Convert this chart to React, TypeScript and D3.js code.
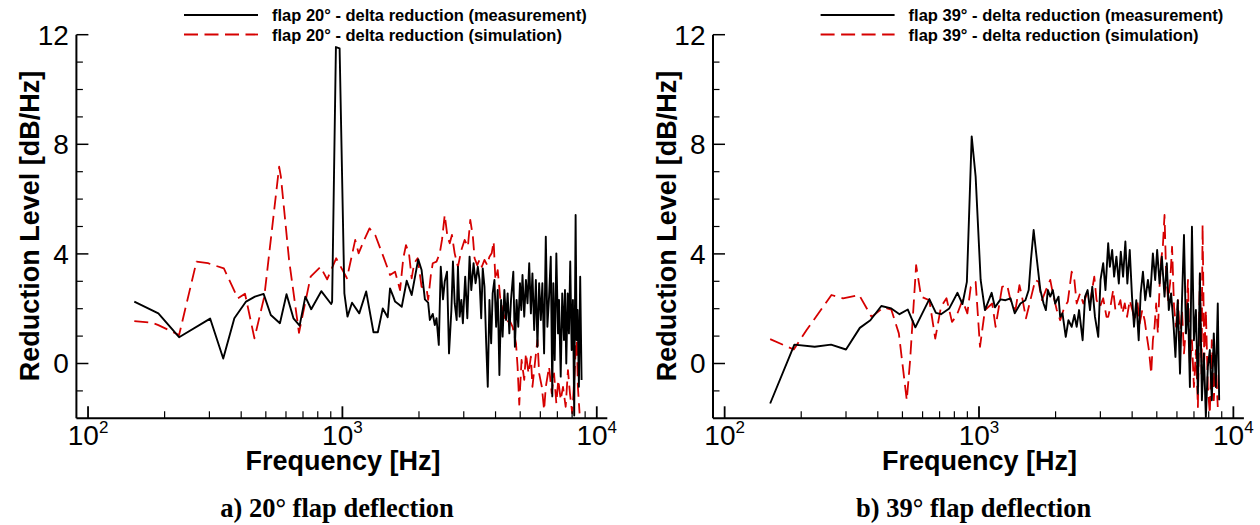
import React from "react";
import * as d3 from "d3";

type Pt = [number, number];

// Frequency [Hz], reduction level [dB/Hz]
const measA: Pt[] = [
  [152, 2.26], [189, 1.83], [228, 0.96], [302, 1.64], [340, 0.18], [376, 1.65], [418, 2.26], [453, 2.44],
  [490, 2.54], [523, 1.77], [568, 1.47], [603, 2.53], [642, 1.65], [679, 1.38], [715, 2.44], [754, 1.98],
  [826, 2.64], [903, 2.17], [911, 2.25], [943, 11.55], [975, 11.5], [1018, 2.56], [1047, 1.71], [1091, 2.22],
  [1165, 1.83], [1240, 2.63], [1325, 1.14], [1378, 1.14], [1441, 2.01], [1507, 1.69], [1539, 2.74], [1585, 2.44],
  [1611, 2.26], [1659, 2.17], [1711, 2.07], [1790, 3.02], [1872, 2.5], [1986, 3.8], [2048, 3.41], [2110, 2.34],
  [2173, 2.22], [2207, 1.59], [2266, 1.81], [2308, 1.4], [2344, 1.65], [2393, 0.68], [2436, 3.53], [2486, 2.34],
  [2525, 2.99], [2578, 3.35], [2625, 0.37], [2682, 1.95], [2720, 3.72], [2763, 2.2], [2813, 1.59], [2846, 3.53],
  [2890, 1.71], [2935, 2.32], [2976, 1.47], [3039, 3.17], [3098, 1.65], [3162, 3.9], [3211, 2.68], [3278, 3.66],
  [3338, 2.93], [3407, 3.53], [3460, 3.05], [3513, 1.65], [3562, 3.47], [3619, 2.8], [3675, 0.74], [3728, -0.85],
  [3785, 2.32], [3844, 0.74], [3897, 2.56], [3960, 3.05], [4021, 1.34], [4079, 2.68], [4142, -0.42], [4206, 2.32],
  [4264, 0.98], [4332, 2.68], [4399, 1.59], [4463, 2.56], [4532, 1.1], [4601, 2.32], [4698, 3.35], [4765, 0.61],
  [4839, 2.32], [4914, 1.34], [4990, 2.93], [5048, 1.95], [5105, 3.23], [5186, 1.71], [5266, 3.05], [5342, 2.2],
  [5425, 3.66], [5508, 1.83], [5585, 3.29], [5674, 1.22], [5762, 3.05], [5845, 0.61], [5935, 2.93], [6027, 1.59],
  [6111, 2.93], [6208, 0.37], [6304, 4.63], [6395, 1.34], [6494, 2.44], [6594, 3.9], [6686, -1.2], [6747, 2.93],
  [6834, 0.13], [6935, 4.02], [7042, 1.1], [7105, 2.32], [7215, -0.48], [7315, 2.56], [7432, 0.86], [7499, 2.68],
  [7588, 0.0], [7684, 2.56], [7774, 1.1], [7865, 3.72], [7965, 0.49], [8059, 2.32], [8153, -1.9], [8257, 5.42],
  [8331, 0.86], [8407, 1.95], [8506, -0.85], [8606, 3.17], [8715, -0.6],
];

const simA: Pt[] = [
  [152, 1.55], [178, 1.49], [189, 1.4], [228, 1.04], [267, 3.72], [296, 3.66], [342, 3.47], [388, 2.38],
  [414, 2.55], [451, 0.92], [493, 2.44], [564, 7.18], [573, 6.82], [617, 3.78], [675, 1.12], [750, 3.17],
  [820, 3.53], [871, 3.07], [945, 3.84], [1042, 3.11], [1123, 4.51], [1158, 4.02], [1210, 4.45], [1278, 4.93],
  [1346, 4.69], [1449, 3.9], [1539, 3.23], [1611, 3.35], [1685, 2.68], [1735, 3.84], [1778, 4.32], [1827, 4.02],
  [1872, 3.11], [1915, 3.66], [1976, 3.84], [2048, 2.8], [2142, 2.74], [2173, 2.32], [2227, 3.23], [2266, 3.66],
  [2344, 3.72], [2414, 4.02], [2463, 4.51], [2525, 5.42], [2588, 4.63], [2642, 4.39], [2695, 4.69], [2763, 4.02],
  [2846, 3.53], [2935, 4.14], [3023, 4.51], [3114, 4.26], [3182, 5.24], [3258, 4.63], [3308, 3.84], [3389, 3.59],
  [3460, 3.78], [3532, 3.53], [3619, 3.78], [3708, 3.59], [3785, 3.9], [3862, 4.02], [3932, 4.45], [3995, 3.05],
  [4079, 3.41], [4179, 2.32], [4264, 1.95], [4399, 1.47], [4532, 1.59], [4668, 1.34], [4813, 0.74], [4883, -0.12],
  [4958, -1.5], [5062, 0.13], [5186, -0.6], [5266, 0.37], [5391, -0.36], [5508, 0.25], [5585, -0.85], [5711, 0.0],
  [5845, 0.86], [5935, -0.36], [6081, -0.85], [6208, -1.7], [6304, -0.85], [6494, -0.12], [6653, -1.09], [6793, -0.36],
  [6935, -1.45], [7060, -0.6], [7215, -1.33], [7366, -0.85], [7547, -1.58], [7704, -0.24], [7844, -1.09], [8008, -1.82],
  [8184, -0.36], [8331, 1.22], [8429, -0.85], [8559, -1.82],
];

const measB: Pt[] = [
  [151, -1.46], [188, 0.69], [226, 0.61], [262, 0.69], [300, 0.51], [340, 1.3], [374, 1.58], [413, 2.1],
  [452, 2.01], [487, 1.8], [525, 1.97], [562, 1.32], [638, 2.35], [677, 1.85], [709, 1.8], [764, 2.01],
  [823, 2.58], [861, 2.17], [896, 2.98], [936, 8.29], [970, 6.82], [1015, 3.05], [1055, 1.95], [1121, 2.58],
  [1155, 2.05], [1215, 2.34], [1271, 2.31], [1330, 2.38], [1382, 1.83], [1455, 2.19], [1522, 2.31], [1568, 2.68],
  [1600, 3.78], [1640, 4.87], [1689, 3.78], [1742, 2.68], [1794, 2.19], [1832, 1.95], [1865, 2.68], [1906, 2.44],
  [1951, 2.68], [1993, 2.19], [2054, 2.44], [2085, 1.7], [2129, 1.83], [2193, 0.97], [2247, 1.58], [2314, 1.34],
  [2371, 1.77], [2421, 1.34], [2474, 1.95], [2555, 0.85], [2611, 2.44], [2673, 2.68], [2731, 1.95], [2788, 2.8],
  [2857, 1.7], [2943, 0.97], [3004, 3.05], [3078, 3.66], [3142, 2.68], [3220, 4.39], [3269, 3.53], [3338, 4.14],
  [3398, 3.17], [3469, 3.9], [3545, 2.92], [3609, 4.08], [3685, 3.17], [3762, 4.45], [3830, 2.92], [3914, 4.14],
  [3995, 2.44], [4068, 1.34], [4153, 2.31], [4244, 0.85], [4321, 2.56], [4411, 3.35], [4503, 2.31], [4614, 3.05],
  [4710, 2.44], [4826, 4.02], [4927, 3.05], [5016, 4.14], [5126, 2.92], [5233, 3.9], [5362, 2.44], [5474, 3.66],
  [5573, 1.95], [5690, 2.56], [5814, 1.46], [5919, 0.24], [6043, 2.31], [6169, -0.37], [6281, 2.31], [6395, 4.69],
  [6512, 1.1], [6630, 2.19], [6747, -0.86], [6873, 4.99], [6997, 0.85], [7124, 1.95], [7254, -1.1], [7385, 3.29],
  [7520, -1.34], [7656, 0.37], [7795, -1.95], [7936, -0.12], [8080, 0.49], [8227, -1.34], [8376, 1.1], [8529, -0.86],
  [8683, 2.19], [8793, -1.34],
];

const simB: Pt[] = [
  [151, 0.89], [187, 0.51], [210, 1.22], [263, 2.5], [292, 2.38], [338, 2.5], [378, 1.7], [422, 2.05],
  [452, 1.97], [484, 1.1], [520, -1.34], [536, 0.12], [566, 3.59], [592, 2.44], [638, 2.31], [673, 0.91],
  [709, 2.07], [745, 2.38], [783, 1.52], [815, 1.73], [861, 2.31], [900, 1.83], [928, 2.8], [970, 2.98],
  [1009, 0.61], [1055, 1.95], [1127, 2.19], [1162, 1.34], [1197, 2.07], [1233, 2.8], [1290, 2.86], [1330, 2.31],
  [1391, 1.95], [1442, 2.86], [1476, 2.44], [1530, 1.65], [1592, 2.31], [1665, 3.05], [1715, 2.98], [1767, 2.31],
  [1832, 2.68], [1906, 3.05], [1951, 2.56], [2022, 1.95], [2085, 1.58], [2167, 2.07], [2233, 2.25], [2314, 3.35],
  [2371, 3.05], [2421, 2.19], [2496, 2.56], [2571, 2.19], [2649, 2.5], [2731, 2.19], [2839, 3.17], [2898, 2.31],
  [2988, 2.07], [3078, 2.38], [3171, 1.7], [3220, 1.7], [3287, 2.07], [3368, 2.68], [3438, 1.95], [3523, 2.07],
  [3596, 2.31], [3662, 1.83], [3741, 2.19], [3820, 1.7], [3914, 2.31], [4006, 1.95], [4094, 1.58], [4190, 2.31],
  [4282, 1.46], [4383, 1.95], [4479, 1.58], [4573, 0.97], [4656, 0.49], [4753, -0.37], [4826, 0.85], [4900, 1.34],
  [4971, 2.19], [5048, 1.1], [5126, 2.8], [5200, 3.78], [5280, 4.26], [5362, 5.42], [5440, 3.29], [5538, 2.31],
  [5639, 2.92], [5741, 4.26], [5845, 2.07], [5951, 1.34], [6059, 2.31], [6169, 0.85], [6281, 1.95], [6395, 0.37],
  [6512, 1.34], [6630, 3.05], [6747, -0.12], [6873, 0.85], [6997, -0.86], [7124, 0.49], [7254, -1.59], [7385, 3.29],
  [7499, -0.37], [7567, 5.06], [7684, 0.12], [7795, 1.95], [7936, -0.86], [8080, -1.83], [8227, 0.85], [8376, -1.34],
  [8529, 0.12], [8683, -1.59],
];

const yMajorTicks = [0, 4, 8, 12];
const yMinorTicks = [-1, 1, 2, 3, 5, 6, 7, 9, 10, 11];
const xDecadeExponents = [2, 3, 4];
const xMinorTicks = [200, 300, 400, 500, 600, 700, 800, 900, 2000, 3000, 4000, 5000, 6000, 7000, 8000, 9000];
const freqDomain: [number, number] = [90, 11000];
const levelDomain: [number, number] = [-2, 12];

const yTitle = "Reduction Level [dB/Hz]";
const xTitle = "Frequency [Hz]";

const SANS = "'Liberation Sans', Arial, Helvetica, sans-serif";
const SERIF = "'Liberation Serif', 'Times New Roman', Times, serif";
const RED = "#d60000";

interface PanelProps {
  id: string;
  ox: number;
  meas: Pt[];
  sim: Pt[];
  angle: number;
  caption: string;
}

function Panel({ id, ox, meas, sim, angle, caption }: PanelProps) {
  const x = d3.scaleLog().domain(freqDomain).range([ox + 76.4, ox + 607.3]);
  const y = d3.scaleLinear().domain(levelDomain).range([418.3, 34.7]);
  const line = d3
    .line<Pt>()
    .x((d) => x(d[0]))
    .y((d) => y(d[1]));
  const [x0, x1] = x.range();
  const [yb, yt] = y.range();

  return (
    <g>
      <defs>
        <clipPath id={`clip-${id}`}>
          <rect x={x0} y={yt - 2} width={x1 - x0} height={yb - yt + 2} />
        </clipPath>
      </defs>

      {/* data */}
      <g clipPath={`url(#clip-${id})`} fill="none" strokeLinejoin="round">
        <path d={line(sim) ?? ""} stroke={RED} strokeWidth={1.8} strokeDasharray="14,6.5" />
        <path d={line(meas) ?? ""} stroke="#000" strokeWidth={1.9} />
      </g>

      {/* y axis */}
      <line x1={x0} x2={x0} y1={yt} y2={yb} stroke="#000" strokeWidth={2} />
      {yMajorTicks.map((t) => (
        <g key={`ym${t}`}>
          <line x1={x0} x2={x0 + 12} y1={y(t)} y2={y(t)} stroke="#000" strokeWidth={1.5} />
          <text
            x={x0 - 7.5}
            y={y(t)}
            dy="0.35em"
            textAnchor="end"
            fontFamily={SANS}
            fontSize={28}
            fill="#000"
          >
            {t}
          </text>
        </g>
      ))}
      {yMinorTicks.map((t) => (
        <line key={`yn${t}`} x1={x0} x2={x0 + 6.5} y1={y(t)} y2={y(t)} stroke="#000" strokeWidth={1.2} />
      ))}

      {/* x axis */}
      <line x1={x0} x2={x1} y1={yb} y2={yb} stroke="#000" strokeWidth={2} />
      {xDecadeExponents.map((e) => {
        const px = x(Math.pow(10, e));
        return (
          <g key={`xd${e}`}>
            <line x1={px} x2={px} y1={yb} y2={yb - 12} stroke="#000" strokeWidth={1.8} />
            <text x={px} y={445} textAnchor="middle" fontFamily={SANS} fontSize={28} fill="#000">
              <tspan>10</tspan>
              <tspan dy={-12} fontSize={17}>
                {e}
              </tspan>
            </text>
          </g>
        );
      })}
      {xMinorTicks.map((f) => (
        <line key={`xn${f}`} x1={x(f)} x2={x(f)} y1={yb} y2={yb - 7} stroke="#000" strokeWidth={1.2} />
      ))}

      {/* axis titles */}
      <text
        transform={`translate(${ox + 39},${226}) rotate(-90)`}
        textAnchor="middle"
        fontFamily={SANS}
        fontWeight="bold"
        fontSize={27}
        fill="#000"
      >
        {yTitle}
      </text>
      <text
        x={ox + 343}
        y={470}
        textAnchor="middle"
        fontFamily={SANS}
        fontWeight="bold"
        fontSize={27}
        fill="#000"
      >
        {xTitle}
      </text>

      {/* legend */}
      <line x1={ox + 184} x2={ox + 258} y1={15} y2={15} stroke="#000" strokeWidth={1.8} />
      <text x={ox + 272} y={21} fontFamily={SANS} fontWeight="bold" fontSize={16.5} fill="#000">
        {`flap ${angle}° - delta reduction (measurement)`}
      </text>
      <line
        x1={ox + 184}
        x2={ox + 258}
        y1={34.5}
        y2={34.5}
        stroke={RED}
        strokeWidth={1.8}
        strokeDasharray="14,6.5"
      />
      <text x={ox + 272} y={40.5} fontFamily={SANS} fontWeight="bold" fontSize={16.5} fill="#000">
        {`flap ${angle}° - delta reduction (simulation)`}
      </text>

      {/* caption */}
      <text
        x={ox + 337}
        y={517}
        textAnchor="middle"
        fontFamily={SERIF}
        fontWeight="bold"
        fontSize={26.5}
        fill="#000"
      >
        {caption}
      </text>
    </g>
  );
}

export default function App() {
  return (
    <svg
      width={1260}
      height={525}
      viewBox="0 0 1260 525"
      style={{ position: "absolute", left: 0, top: 0, background: "#fff" }}
    >
      <rect width={1260} height={525} fill="#fff" />
      <Panel id="a" ox={0} meas={measA} sim={simA} angle={20} caption="a) 20° flap deflection" />
      <Panel id="b" ox={636.6} meas={measB} sim={simB} angle={39} caption="b) 39° flap deflection" />
    </svg>
  );
}
